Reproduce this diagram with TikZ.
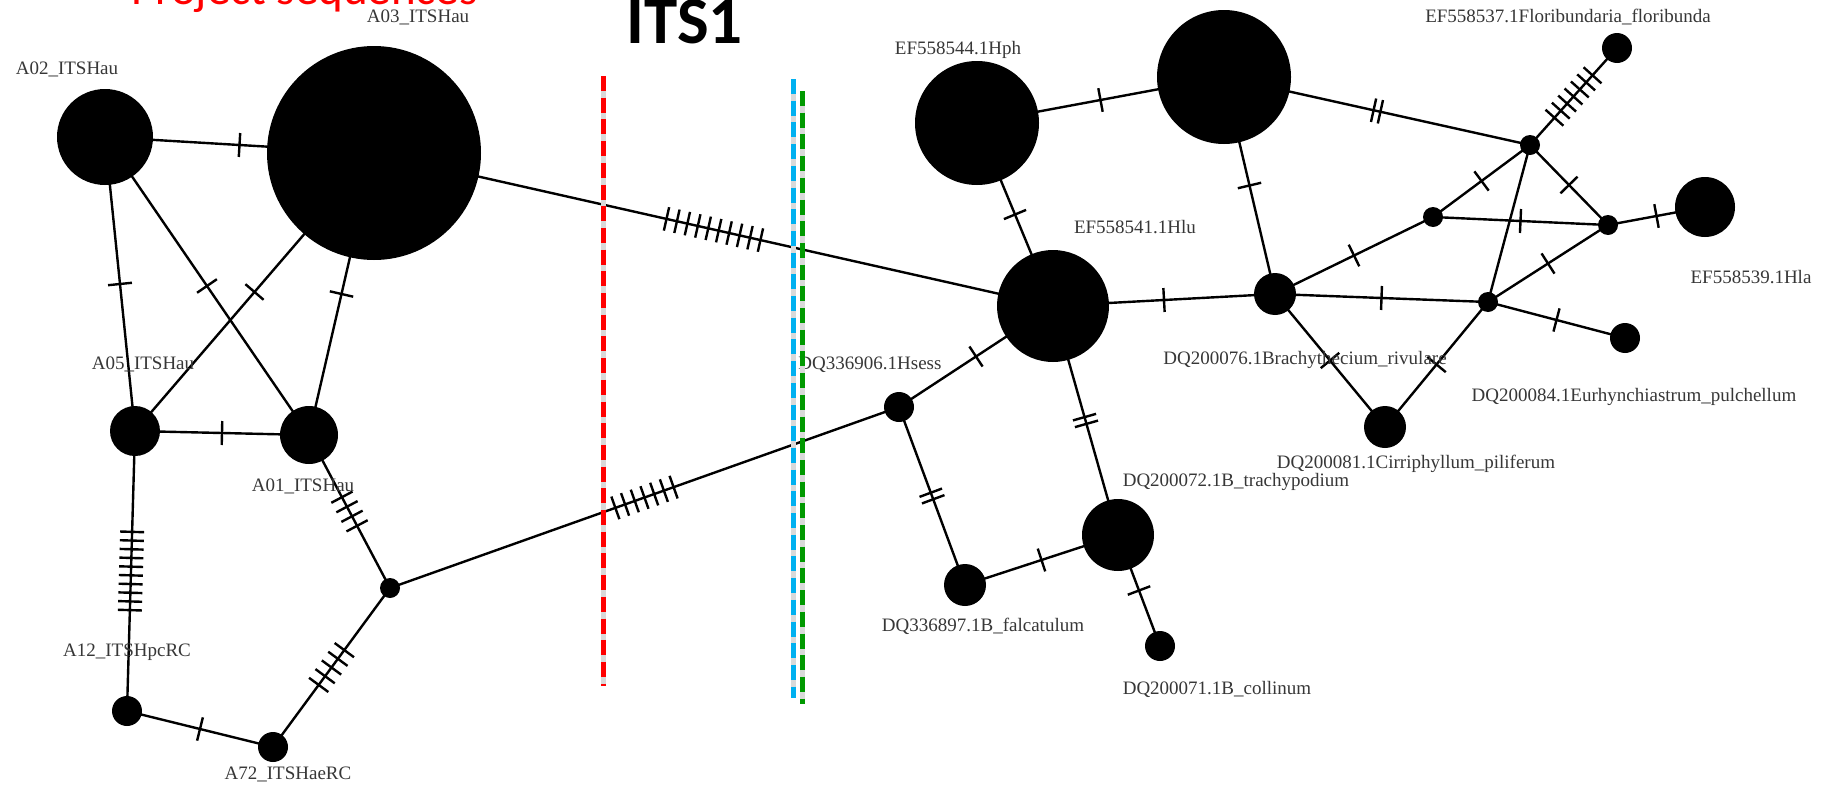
\documentclass[tikz,border=0pt]{standalone}
\usepackage{fontspec}
\setmainfont{Liberation Serif}
\newfontfamily\calibri{Carlito}
\usetikzlibrary{decorations.markings}
\pgfdeclarelayer{bg}
\pgfsetlayers{bg,main}

\definecolor{lbl}{RGB}{55,55,55}
\definecolor{cutred}{RGB}{255,0,0}
\definecolor{cutblue}{RGB}{0,176,240}
\definecolor{cutgreen}{RGB}{0,153,0}

\tikzset{
  hap/.style={circle, fill=black, draw=none, inner sep=0pt, minimum size=#1},
  lab/.style={anchor=base, text=lbl, inner sep=0pt,
              font=\fontsize{19}{19}\selectfont},
  link/.style={line width=2.4pt, black},
  % #1 mutation ticks centred on the link, #2 apart
  muts/.style 2 args={postaction={decorate, decoration={markings,
      mark=at position 0.5 with {
        \foreach \k in {1,...,#1}{
          \draw[line width=2.4pt, black]
            ({(\k-(#1+1)/2)*#2},-12pt) -- ({(\k-(#1+1)/2)*#2},12pt);
        }}}}},
  cutline/.style={line width=5pt, dash pattern=on 15pt off 6.7pt},
  cutshade/.style={line width=5pt, gray!30},
}

\begin{document}
\begin{tikzpicture}[x=1pt, y=-1pt]
\useasboundingbox (0,0) rectangle (1824,787);
\begin{pgfonlayer}{bg}
  \fill[white] (0,0) rectangle (1824,787);
\end{pgfonlayer}

% ---------- haplotypes, left group ----------
\node[hap=96pt]  (A02) at (105,137) {};
\node[hap=214pt] (A03) at (374,153) {};
\node[hap=50pt]  (A05) at (135,431) {};
\node[hap=58pt]  (A01) at (309,435) {};
\node[hap=30pt]  (A12) at (127,711) {};
\node[hap=30pt]  (A72) at (273,747) {};
\node[hap=20pt]  (J1)  at (390,588) {};

% ---------- haplotypes, right group ----------
\node[hap=30pt]  (Hsess) at (899,407) {};
\node[hap=112pt] (Hlu)   at (1053,306) {};
\node[hap=124pt] (Hph)   at (977,123) {};
\node[hap=134pt] (T)     at (1224,77) {};
\node[hap=30pt]  (Flor)  at (1617,48) {};
\node[hap=20pt]  (J2)    at (1530,145) {};
\node[hap=20pt]  (J3)    at (1433,217) {};
\node[hap=20pt]  (J4)    at (1608,225) {};
\node[hap=60pt]  (Hla)   at (1705,207) {};
\node[hap=42pt]  (Brac)  at (1275,294) {};
\node[hap=20pt]  (J5)    at (1488,302) {};
\node[hap=30pt]  (D84)   at (1625,338) {};
\node[hap=42pt]  (D81)   at (1385,427) {};
\node[hap=72pt]  (D72)   at (1118,535) {};
\node[hap=42pt]  (D897)  at (965,585) {};
\node[hap=30pt]  (D71)   at (1160,646) {};

% ---------- links with mutation ticks ----------
\begin{pgfonlayer}{bg}
  \draw[link, muts={1}{0pt}]     (A02.center) -- (A03.center);
  \draw[link, muts={1}{0pt}]     (A02.center) -- (A05.center);
  \draw[link, muts={1}{0pt}]     (A02.center) -- (A01.center);
  \draw[link, muts={1}{0pt}]     (A03.center) -- (A05.center);
  \draw[link, muts={1}{0pt}]     (A03.center) -- (A01.center);
  \draw[link, muts={1}{0pt}]     (A05.center) -- (A01.center);
  \draw[link, muts={10}{8.7pt}]  (A05.center) -- (A12.center);
  \draw[link, muts={1}{0pt}]     (A12.center) -- (A72.center);
  \draw[link, muts={5}{10.8pt}]  (A72.center) -- (J1.center);
  \draw[link, muts={4}{10.8pt}]  (A01.center) -- (J1.center);
  \draw[link, muts={7}{10.3pt}]  (J1.center)  -- (Hsess.center);
  \draw[link, muts={10}{10.7pt}] (A03.center) -- (Hlu.center);

  \draw[link, muts={1}{0pt}]     (Hsess.center) -- (Hlu.center);
  \draw[link, muts={2}{7pt}]     (Hsess.center) -- (D897.center);
  \draw[link, muts={1}{0pt}]     (D897.center)  -- (D72.center);
  \draw[link, muts={2}{7pt}]     (Hlu.center)   -- (D72.center);
  \draw[link, muts={1}{0pt}]     (D72.center)   -- (D71.center);
  \draw[link, muts={1}{0pt}]     (Hlu.center)   -- (Hph.center);
  \draw[link, muts={1}{0pt}]     (Hph.center)   -- (T.center);
  \draw[link, muts={2}{7pt}]     (T.center)     -- (J2.center);
  \draw[link, muts={1}{0pt}]     (T.center)     -- (Brac.center);
  \draw[link, muts={1}{0pt}]     (Hlu.center)   -- (Brac.center);
  \draw[link, muts={1}{0pt}]     (Brac.center)  -- (J3.center);
  \draw[link, muts={1}{0pt}]     (Brac.center)  -- (J5.center);
  \draw[link, muts={1}{0pt}]     (Brac.center)  -- (D81.center);
  \draw[link, muts={1}{0pt}]     (D81.center)   -- (J5.center);
  \draw[link, muts={1}{0pt}]     (J5.center)    -- (D84.center);
  \draw[link, muts={1}{0pt}]     (J5.center)    -- (J4.center);
  \draw[link]                    (J5.center)    -- (J2.center);
  \draw[link, muts={1}{0pt}]     (J2.center)    -- (J3.center);
  \draw[link, muts={1}{0pt}]     (J2.center)    -- (J4.center);
  \draw[link, muts={1}{0pt}]     (J3.center)    -- (J4.center);
  \draw[link, muts={7}{9.5pt}]   (J2.center)    -- (Flor.center);
  \draw[link, muts={1}{0pt}]     (J4.center)    -- (Hla.center);
\end{pgfonlayer}

% ---------- sequence labels ----------
\node[lab] (lA02)  at (67,74)    {A02\_ITSHau};
\node[lab] (lA03)  at (418,23)   {A03\_ITSHau};
\node[lab] (lA05)  at (143,369)  {A05\_ITSHau};
\node[lab] (lA01)  at (303,491)  {A01\_ITSHau};
\node[lab] (lA12)  at (127,656)  {A12\_ITSHpcRC};
\node[lab] (lA72)  at (288,779)  {A72\_ITSHaeRC};
\node[lab] (lHph)  at (958,54)   {EF558544.1Hph};
\node[lab] (lHlu)  at (1135,233) {EF558541.1Hlu};
\node[lab] (lFlor) at (1568,23)  {EF558537.1Floribundaria\_floribunda};
\node[lab] (lHla)  at (1751,283) {EF558539.1Hla};
\node[lab] (lHses) at (870,369)  {DQ336906.1Hsess};
\node[lab] (lBrac) at (1305,364) {DQ200076.1Brachythecium\_rivulare};
\node[lab] (lD84)  at (1634,401) {DQ200084.1Eurhynchiastrum\_pulchellum};
\node[lab] (lD81)  at (1416,468) {DQ200081.1Cirriphyllum\_piliferum};
\node[lab] (lD72)  at (1236,486) {DQ200072.1B\_trachypodium};
\node[lab] (lD897) at (983,631)  {DQ336897.1B\_falcatulum};
\node[lab] (lD71)  at (1217,694) {DQ200071.1B\_collinum};

% ---------- region cut lines ----------
\draw[cutshade] (603,76) -- (603,686);
\draw[cutline, cutred] (603,76) -- (603,686);
\draw[cutshade] (793,79) -- (793,698);
\draw[cutline, cutblue] (793,79) -- (793,698);
\draw[cutshade] (802,91) -- (802,704);
\draw[cutline, cutgreen] (802,91) -- (802,704);

% ---------- titles ----------
\node[anchor=base, inner sep=0pt, font=\calibri\bfseries\fontsize{67}{67}\selectfont]
  (its) at (684.5,43) {ITS1};
\node[anchor=base west, inner sep=0pt, text=cutred,
      font=\calibri\fontsize{47}{47}\selectfont]
  (proj) at (131,5) {Project sequences};
\end{tikzpicture}
\end{document}
